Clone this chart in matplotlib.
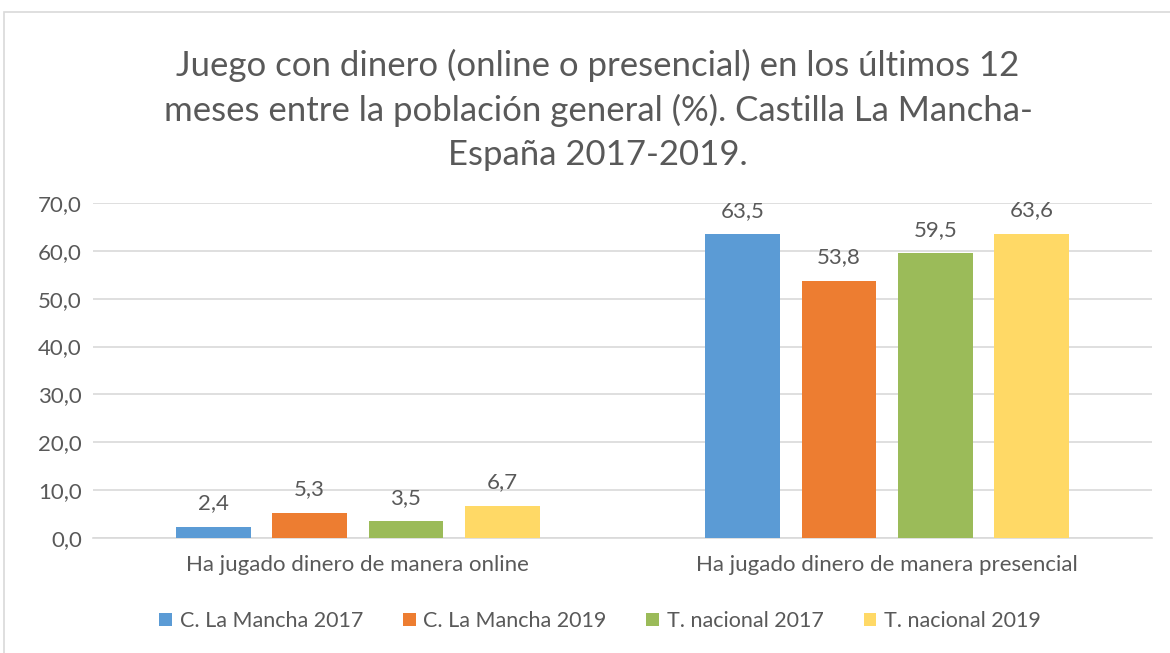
import numpy as np
import matplotlib.pyplot as plt
from matplotlib.patches import Rectangle

plt.rcParams['font.family'] = ['Lato', 'DejaVu Sans']

categories = ['Ha jugado dinero de manera online', 'Ha jugado dinero de manera presencial']
series = ['C. La Mancha 2017', 'C. La Mancha 2019', 'T. nacional 2017', 'T. nacional 2019']
values = [
    [2.4, 63.5],
    [5.3, 53.8],
    [3.5, 59.5],
    [6.7, 63.6],
]
colors = ['#5B9BD5', '#ED7D31', '#9BBB59', '#FFD966']
title = ('Juego con dinero (online o presencial) en los últimos 12\n'
         'meses entre la población general (%). Castilla La Mancha-\n'
         'España 2017-2019.')
txt = '#595959'

fig = plt.figure(figsize=(11.7, 6.53), dpi=100)
ax = fig.add_axes([93/1170, 1-538/653, (1152-93)/1170, 335/653])

# chart frame
fig.patches.append(Rectangle((4/1170, -0.05), 1.1, 1-12/653+0.05, transform=fig.transFigure,
                             fill=False, edgecolor='#D9D9D9', linewidth=1.2))

x = np.arange(len(categories))
w = 0.141
step = 0.182
for i, (name, vals) in enumerate(zip(series, values)):
    pos = x + (i - 1.5) * step
    bars = ax.bar(pos, vals, w, color=colors[i], label=name, zorder=3)
    for b, v in zip(bars, vals):
        ax.text(b.get_x() + b.get_width()/2, v + 2.8, f'{v:.1f}'.replace('.', ','),
                ha='center', va='bottom', fontsize=16, color=txt)

ax.set_ylim(0, 70)
ax.set_xlim(-0.5, 1.5)
ax.set_yticks(np.arange(0, 71, 10))
ax.set_yticklabels([f'{t:.1f}'.replace('.', ',') for t in np.arange(0, 71, 10)])
ax.set_xticks(x)
ax.set_xticklabels(categories)
ax.tick_params(axis='both', length=0, labelsize=16, labelcolor=txt)
ax.tick_params(axis='x', pad=12)
ax.tick_params(axis='y', pad=8)
ax.grid(axis='y', color='#D9D9D9', linewidth=1.2, zorder=0)
for s in ['top', 'right', 'left']:
    ax.spines[s].set_visible(False)
ax.spines['bottom'].set_color('#D9D9D9')
ax.spines['bottom'].set_linewidth(1.2)

fig.text(598/1170, 1-110/653, title, ha='center', va='center', fontsize=25,
         color=txt, linespacing=1.45)

leg = fig.legend(loc='center', bbox_to_anchor=(600/1170, 1-621/653), ncol=4, frameon=False,
                 fontsize=15.5, handlelength=0.6, handleheight=0.6, handletextpad=0.35,
                 columnspacing=1.85, labelcolor=txt)

fig.savefig('out.png', dpi=100)
